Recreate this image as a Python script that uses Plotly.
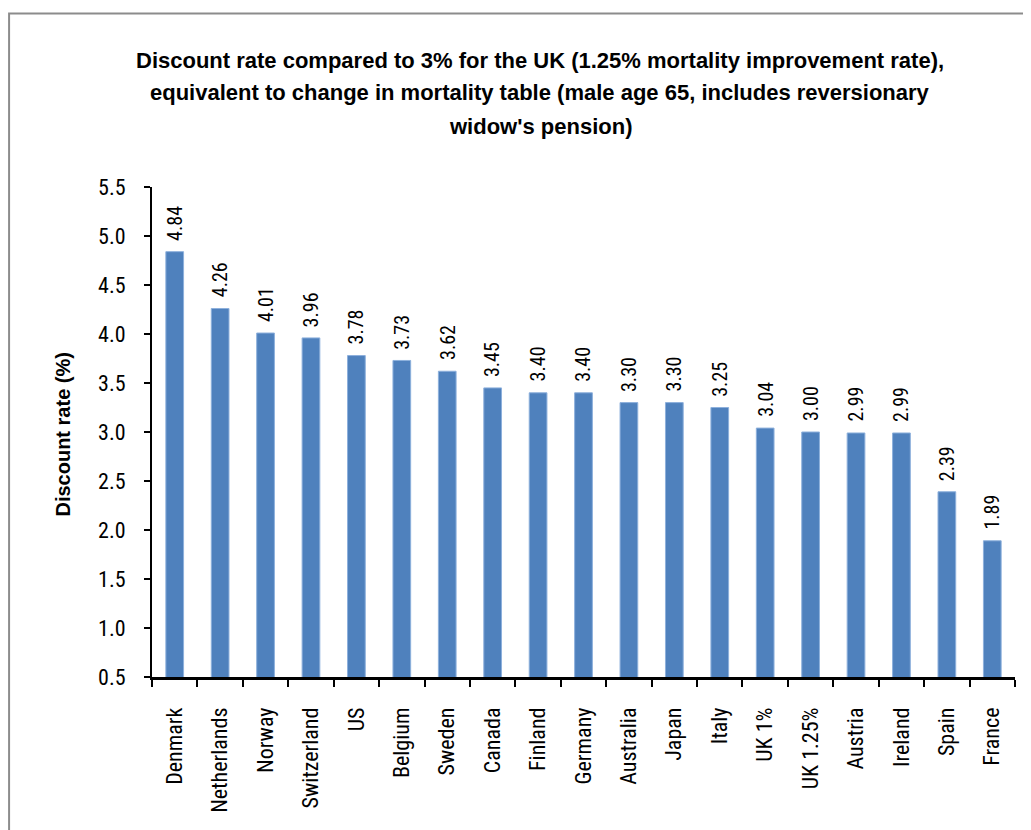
import plotly.graph_objects as go

countries = ["Denmark", "Netherlands", "Norway", "Switzerland", "US", "Belgium", "Sweden",
             "Canada", "Finland", "Germany", "Australia", "Japan", "Italy", "UK 1%",
             "UK 1.25%", "Austria", "Ireland", "Spain", "France"]
rates = [4.84, 4.26, 4.01, 3.96, 3.78, 3.73, 3.62, 3.45, 3.40, 3.40, 3.30, 3.30, 3.25,
         3.04, 3.00, 2.99, 2.99, 2.39, 1.89]

title_lines = [
    "Discount rate compared to 3% for the UK (1.25% mortality improvement rate),",
    "equivalent to change in mortality table (male age 65, includes reversionary",
    "widow's pension)",
]

NARROW = "Roboto Condensed, Liberation Sans Narrow, Arial Narrow, sans-serif"
TFONT = "Liberation Sans, Arial, sans-serif"
W, H = 1023, 822
L, T = 143.5, 179
pw, ph = 863.5, 490
R, B = W - L - pw, H - T - ph


def py(y):
    # figure pixel -> paper y
    return (T + ph - y) / ph


def px(x):
    return (x - L) / pw


fig = go.Figure()
fig.add_trace(go.Bar(
    x=countries, y=rates,
    marker=dict(color="#4F81BD", line=dict(color="#8DB0DC", width=1)),
    width=0.39,
    showlegend=False,
))

# value labels above each bar
for c, v in zip(countries, rates):
    fig.add_annotation(
        x=c, y=v, text=f"{v:.2f}", textangle=-90,
        showarrow=False, yanchor="bottom", yshift=9,
        font=dict(family=NARROW, size=20, color="black"),
    )

# title, one annotation per line
for i, line in enumerate(title_lines):
    fig.add_annotation(
        xref="paper", yref="paper", x=px(532), y=py(52 + 33 * i),
        text=line, showarrow=False, xanchor="center", yanchor="middle",
        font=dict(family=TFONT, size=22, color="black", weight="bold"),
    )

# y axis title
fig.add_annotation(
    xref="paper", yref="paper", x=px(54), y=py(427),
    text="Discount rate (%)", textangle=-90, showarrow=False,
    xanchor="center", yanchor="middle",
    font=dict(family=TFONT, size=20, color="black", weight="bold"),
)

# outer frame
fig.add_shape(
    type="rect", xref="paper", yref="paper",
    x0=px(0.5), x1=px(1040), y0=py(840), y1=py(5.5),
    line=dict(color="#8C8C8C", width=2), layer="below",
)

fig.update_layout(
    width=W, height=H,
    margin=dict(l=L, r=R, t=T, b=B, autoexpand=False),
    paper_bgcolor="white", plot_bgcolor="white",
    font=dict(family=NARROW, size=22, color="black"),
    bargap=0.6,
)
fig.update_xaxes(
    showline=True, linecolor="black", linewidth=2.5,
    ticks="outside", tickson="boundaries", ticklen=7, tickwidth=2, tickcolor="black",
    tickangle=-90, tickfont=dict(family=NARROW, size=22), ticklabelstandoff=19,
    showgrid=False,
)
fig.update_yaxes(
    range=[0.5, 5.5], dtick=0.5, tick0=0.5, tickformat=".1f",
    showline=True, linecolor="black", linewidth=2,
    ticks="outside", ticklen=6, tickwidth=1.5, tickcolor="black",
    tickfont=dict(family=NARROW, size=22), ticklabelstandoff=14,
    showgrid=False, zeroline=False,
)

fig.write_html("out.html")
